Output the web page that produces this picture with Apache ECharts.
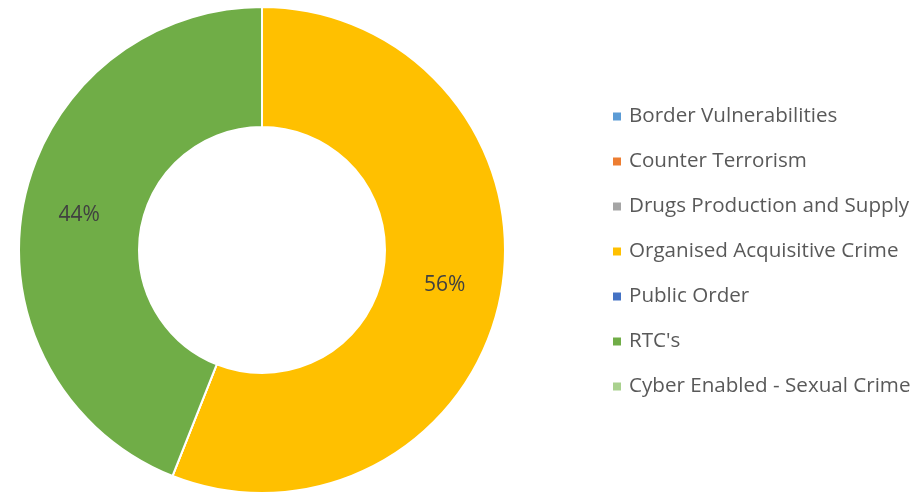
<!DOCTYPE html>
<html>
<head>
<meta charset="utf-8">
<script src="https://cdn.jsdelivr.net/npm/echarts@6/dist/echarts.min.js"></script>
<style>
  html, body { margin: 0; padding: 0; background: #ffffff; }
  #chart { width: 916px; height: 495px; }
</style>
</head>
<body>
<div id="chart"></div>
<script>
// categories and values
var categories = [
  'Border Vulnerabilities',
  'Counter Terrorism',
  'Drugs Production and Supply',
  'Organised Acquisitive Crime',
  'Public Order',
  "RTC's",
  'Cyber Enabled - Sexual Crime'
];
var values = [0, 0, 0, 56, 0, 44, 0];
var colors = ['#5B9BD5', '#ED7D31', '#A5A5A5', '#FFC000', '#4472C4', '#70AD47', '#A9D18E'];

var chart = echarts.init(document.getElementById('chart'), null, { renderer: 'canvas' });

var pieData = categories.map(function (name, i) {
  return { name: name, value: values[i] };
});

var option = {
  backgroundColor: '#ffffff',
  color: colors,
  animation: false,
  legend: {
    orient: 'vertical',
    left: 606,
    top: 101,
    itemWidth: 10,
    itemHeight: 10,
    itemGap: 24,
    icon: 'rect',
    textStyle: {
      color: '#595959',
      fontFamily: 'Open Sans',
      fontSize: 20.6,
      lineHeight: 20,
      padding: [0, 0, 0, 2]
    },
    data: categories
  },
  series: [{
    name: 'Crime',
    type: 'pie',
    center: [262, 250],
    radius: [123, 243],
    startAngle: 90,
    clockwise: true,
    avoidLabelOverlap: false,
    itemStyle: {
      borderColor: '#ffffff',
      borderWidth: 2
    },
    label: {
      show: true,
      position: 'inside',
      color: '#404040',
      fontFamily: 'Open Sans',
      fontSize: 21,
      formatter: function (p) {
        return p.value ? Math.round(p.percent) + '%' : '';
      }
    },
    labelLine: { show: false },
    emphasis: { disabled: true },
    data: pieData
  }]
};

chart.setOption(option);
</script>
</body>
</html>
